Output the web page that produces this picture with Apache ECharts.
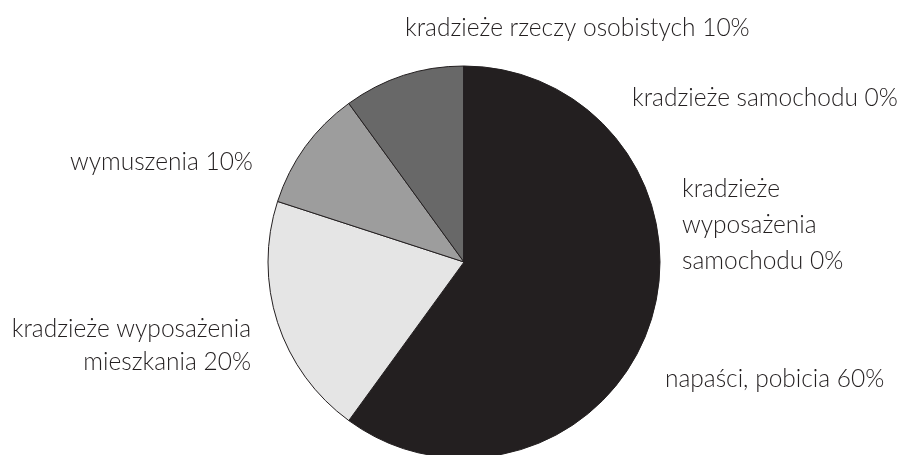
<!DOCTYPE html>
<html>
<head>
<meta charset="utf-8">
<script src="https://cdn.jsdelivr.net/npm/echarts@6/dist/echarts.min.js"></script>
<style>
  html, body { margin: 0; padding: 0; background: #fff; }
  #main { width: 909px; height: 455px; }
</style>
</head>
<body>
<div id="main"></div>
<script>
// categories and shares (%)
var categories = [
  'napaści, pobicia',
  'kradzieże wyposażenia\nmieszkania',
  'wymuszenia',
  'kradzieże rzeczy osobistych',
  'kradzieże samochodu',
  'kradzieże\nwyposażenia\nsamochodu'
];
var shares = [60, 20, 10, 10, 0, 0];
var sliceColors = ['#231f20', '#e5e5e5', '#9d9d9d', '#686868', '#555555', '#888888'];

// where each label sits (text anchor in px)
var labelSpots = [
  { x: 665, y: 379, align: 'left', lh: 36 },
  { x: 251, y: 346, align: 'right', lh: 33 },
  { x: 70, y: 162, align: 'left', lh: 36 },
  { x: 405, y: 28, align: 'left', lh: 36 },
  { x: 632, y: 98, align: 'left', lh: 36 },
  { x: 682, y: 225, align: 'left', lh: 36 }
];

var myChart = echarts.init(document.getElementById('main'));

var pieData = categories.map(function (name, i) {
  return {
    name: name,
    value: shares[i],
    itemStyle: { color: sliceColors[i] },
    label: { lineHeight: labelSpots[i].lh }
  };
});

var option = {
  animation: false,
  series: [
    {
      type: 'pie',
      center: [464, 262],
      radius: 196,
      startAngle: 90,
      clockwise: true,
      avoidLabelOverlap: false,
      data: pieData,
      itemStyle: {
        borderColor: '#231f20',
        borderWidth: 1
      },
      label: {
        show: true,
        formatter: function (p) {
          return p.name + ' ' + p.value + '%';
        },
        fontFamily: 'Lato',
        fontWeight: 300,
        fontSize: 24.5,
        color: '#231f20'
      },
      labelLine: { show: false },
      labelLayout: function (params) {
        var s = labelSpots[params.dataIndex];
        return { x: s.x, y: s.y, align: s.align, verticalAlign: 'middle' };
      },
      emphasis: { disabled: true }
    }
  ]
};
option && myChart.setOption(option);
</script>
</body>
</html>
